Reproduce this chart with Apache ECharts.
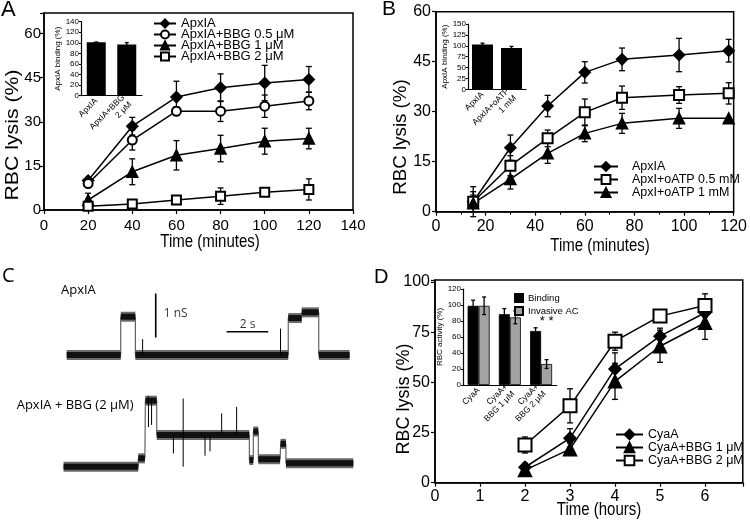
<!DOCTYPE html>
<html>
<head>
<meta charset="utf-8">
<title>RBC lysis panels</title>
<script src="https://cdn.jsdelivr.net/npm/echarts@6/dist/echarts.min.js"></script>
<style>
  html, body { margin: 0; padding: 0; background: #fff; }
  #chart { width: 750px; height: 520px; }
</style>
</head>
<body>
<div id="chart"></div>
<script>
// PANEL A DATA (minutes, % lysis)
const timeA = [20, 40, 60, 80, 100, 120];
const apxA = [10, 28.5, 38.4, 41.6, 43.2, 44.4];
const apxAErr = [1, 3, 5.4, 4.7, 6, 4.4];
const bbg05A = [9, 23.8, 33.6, 33.6, 35.3, 37.1];
const bbg05AErr = [1, 3.4, 1.5, 3.5, 3.8, 3];
const bbg1A = [3.4, 13, 18.6, 20.9, 23.4, 24.3];
const bbg1AErr = [2.3, 4.4, 5, 4.5, 4.4, 3.5];
const bbg2A = [1.3, 2, 3.4, 4.7, 6, 7];
const bbg2AErr = [0.5, 0.5, 0.8, 2.8, 1.2, 3.6];
const namesA = ['ApxIA', 'ApxIA+BBG 0.5 μM', 'ApxIA+BBG 1 μM', 'ApxIA+BBG 2 μM'];

// PANEL A INSET
const insetACats = ['ApxIA', 'ApxIA+BBG\n2 μM'];
const insetAVals = [101, 97];
const insetAErr = [0.5, 3.5];

// PANEL B DATA
const timeB = [15, 30, 45, 60, 75, 98, 118];
const apxB = [3, 19.2, 31.7, 41.8, 45.7, 47, 48.3];
const apxBErr = [4.5, 3.8, 3.2, 3.2, 3.4, 5, 3.4];
const atp05B = [3, 13.8, 22, 29.8, 34.2, 35, 35.5];
const atp05BErr = [3, 3, 2.5, 4, 3.5, 2.5, 3.2];
const atp1B = [2.5, 9.8, 17.5, 23.5, 26.5, 28, 28];
const atp1BErr = [2.5, 3, 3, 2.5, 3, 3, 0];
const namesB = ['ApxIA', 'ApxI+oATP 0.5 mM', 'ApxI+oATP 1 mM'];

// PANEL B INSET
const insetBCats = ['ApxIA', 'ApxIA+oATP\n1 mM'];
const insetBVals = [103, 95];
const insetBErr = [3, 3.5];

// PANEL C TRACES: [start s, end s, level nS]
const ctrlLevels = [[0, 2.6, 0], [2.6, 3.3, 0.87], [3.3, 10.65, 0], [10.65, 11.3, 0.84], [11.3, 12.12, 0.97], [12.12, 13.6, 0]];
const ctrlSpikes = [[3.65, 0, 0.36], [10.28, 0, 0.6]];
const bbgLevels = [[-0.15, 3.44, 0], [3.44, 3.76, 0.19], [3.78, 4.33, 1.5], [4.33, 8.78, 0.72], [8.78, 8.97, 0.15],
  [8.97, 9.21, 0.8], [9.21, 10.26, 0.17], [10.28, 10.54, 0.52], [10.54, 13.78, 0.08]];
const bbgSpikes = [[3.93, 0.9, 1.6], [4.08, 0.95, 1.55], [5.13, 0.3, 0.72], [5.6, 0, 1.55], [6.65, 0.25, 0.72],
  [6.89, 0.35, 0.72], [7.45, 0.72, 1.21], [8.17, 0.72, 1.36]];
const scaleBarNs = [[4.28, 0.4], [4.28, 1.4]];
const scaleBarSec = [[7.69, 0.53], [9.69, 0.53]];

// PANEL D DATA (hours)
const timeD = [2, 3, 4, 5, 6];
const cyaD = [7.7, 22.2, 56.7, 73, 84.7];
const cyaDErr = [2, 4.7, 8, 4, 4];
const bbg1D = [6.3, 16.7, 50.5, 68, 79.7];
const bbg1DErr = [1.5, 3, 9, 8, 8.3];
const bbg2D = [18.8, 38.3, 70.5, 83, 88.3];
const bbg2DErr = [4, 8.5, 4.5, 1.5, 5.8];
const namesD = ['CyaA', 'CyaA+BBG 1 μM', 'CyaA+BBG 2 μM'];

// PANEL D INSET
const insetDCats = ['CyaA', 'CyaA+\nBBG 1 μM', 'CyaA+\nBBG 2 μM'];
const bindingD = [99, 88.5, 67.5];
const bindingDErr = [7, 7, 4];
const invasiveD = [99, 84.5, 26.2];
const invasiveDErr = [11, 8, 5.5];

const FR = "'Liberation Sans', Arial, sans-serif";
const FO = "'Open Sans', sans-serif";

const chart = echarts.init(document.getElementById('chart'));

function valueAxis(gi, min, max, interval, fs, margin, extra) {
  return Object.assign({
    type: 'value', gridIndex: gi, min: min, max: max, interval: interval,
    axisLine: { show: true, onZero: false, lineStyle: { color: '#000', width: 1.5 } },
    axisTick: { show: true, inside: false, length: 4, lineStyle: { color: '#000', width: 1.2 } },
    axisLabel: {
      color: '#000', fontFamily: FR, fontSize: fs, margin: margin,
      formatter: v => (Math.abs(v / interval - Math.round(v / interval)) < 1e-6 ? String(v) : '')
    },
    splitLine: { show: false }
  }, extra || {});
}

function insetY(gi, max, interval, name, gap) {
  return {
    type: 'value', gridIndex: gi, min: 0, max: max, interval: interval,
    name: name, nameLocation: 'middle', nameGap: gap,
    nameTextStyle: { fontFamily: FR, fontSize: 8, color: '#000' },
    axisLine: { show: true, lineStyle: { color: '#000', width: 1.2 } },
    axisTick: { show: true, length: 2, lineStyle: { color: '#000' } },
    axisLabel: { color: '#000', fontFamily: FR, fontSize: 8, margin: 2 },
    splitLine: { show: false }
  };
}

function catAxis(gi, cats) {
  return {
    type: 'category', gridIndex: gi, data: cats,
    axisLine: { lineStyle: { color: '#000', width: 1.2 } },
    axisTick: { show: false },
    axisLabel: { color: '#000', fontFamily: FR, fontSize: 8.5, rotate: 45, interval: 0, margin: 4, lineHeight: 10 }
  };
}

function hiddenAxis(gi, min, max) {
  return { type: 'value', gridIndex: gi, min: min, max: max, show: false };
}

function lineSeries(name, gi, xs, ys, symbol, size) {
  return {
    name: name, type: 'line', xAxisIndex: gi, yAxisIndex: gi,
    data: xs.map((x, i) => [x, ys[i]]),
    symbol: symbol, symbolSize: size,
    lineStyle: { color: '#000', width: 1.5 },
    itemStyle: { color: '#000', borderColor: '#000', borderWidth: 1.5 },
    z: 4
  };
}

// vertical bars with optional caps: data rows are [x, low, high]
function segSeries(gi, rows, cap, dx, width) {
  return {
    type: 'custom', xAxisIndex: gi, yAxisIndex: gi, silent: true, z: 3,
    data: rows,
    renderItem: (params, api) => {
      const lo = api.coord([api.value(0), api.value(1)]);
      const hi = api.coord([api.value(0), api.value(2)]);
      const x = lo[0] + dx;
      const st = { stroke: '#000', lineWidth: width };
      const kids = [{ type: 'line', shape: { x1: x, y1: lo[1], x2: x, y2: hi[1] }, style: st }];
      if (cap > 0) {
        kids.push({ type: 'line', shape: { x1: x - cap, y1: lo[1], x2: x + cap, y2: lo[1] }, style: st });
        kids.push({ type: 'line', shape: { x1: x - cap, y1: hi[1], x2: x + cap, y2: hi[1] }, style: st });
      }
      return { type: 'group', children: kids };
    }
  };
}

function errSeries(gi, xs, ys, es, cap, dx) {
  return segSeries(gi, xs.map((x, i) => [x, ys[i] - es[i], ys[i] + es[i]]), cap, dx || 0, 1.3);
}

// noisy single-channel band: a grey fringe and dark core for each level
function bandSeries(gi, levels) {
  return {
    type: 'custom', xAxisIndex: gi, yAxisIndex: gi, silent: true, z: 2,
    data: levels,
    renderItem: (params, api) => {
      const a = api.coord([api.value(0), api.value(2)]);
      const b = api.coord([api.value(1), api.value(2)]);
      const w = b[0] - a[0];
      return { type: 'group', children: [
        { type: 'rect', shape: { x: a[0], y: a[1] - 5, width: w, height: 10 }, style: { fill: '#6a6a6a' } },
        { type: 'rect', shape: { x: a[0], y: a[1] - 3, width: w, height: 6 }, style: { fill: '#111' } }
      ] };
    }
  };
}

function pathSeries(gi, levels) {
  const pts = [];
  levels.forEach(l => { pts.push([l[0], l[2]]); pts.push([l[1], l[2]]); });
  return {
    type: 'line', xAxisIndex: gi, yAxisIndex: gi, data: pts, symbol: 'none', silent: true,
    lineStyle: { color: '#444', width: 1 }, z: 1
  };
}

function barLine(gi, pts) {
  return {
    type: 'line', xAxisIndex: gi, yAxisIndex: gi, data: pts, symbol: 'none', silent: true,
    lineStyle: { color: '#000', width: 1.6 }
  };
}

function title(text, x, y, extra) {
  return Object.assign({ type: 'text', x: x, y: y,
    style: { text: text, font: `15px ${FR}`, fill: '#000', textAlign: 'center', textVerticalAlign: 'middle' } }, extra || {});
}

function yTitle(x, y, sx) {
  return { type: 'text', x: x, y: y, rotation: Math.PI / 2, scaleX: sx,
    style: { text: 'RBC lysis (%)', font: `18px ${FR}`, fill: '#000', textAlign: 'center', textVerticalAlign: 'middle' } };
}

const idxA = insetACats.map((c, i) => i);
const idxB = insetBCats.map((c, i) => i);
const idxD = insetDCats.map((c, i) => i);

const legendText = (fs, lh) => ({ fontFamily: FR, fontSize: fs, color: '#000', lineHeight: lh });

const option = {
  animation: false,
  backgroundColor: '#fff',
  grid: [
    { left: 44, top: 13, width: 309, height: 197, show: true, borderColor: '#000', borderWidth: 1.5 },
    { left: 81, top: 21.7, width: 61, height: 74 },
    { left: 436, top: 11.7, width: 305, height: 200, show: true, borderColor: '#000', borderWidth: 1.5 },
    { left: 468, top: 24, width: 58, height: 65.3 },
    { left: 56.3, top: 289, width: 301.6, height: 88 },
    { left: 56.3, top: 378.7, width: 301.6, height: 110 },
    { left: 435, top: 280, width: 307.8, height: 202.7, show: true, borderColor: '#000', borderWidth: 1.5 },
    { left: 463, top: 289, width: 93.7, height: 96 }
  ],
  xAxis: [
    valueAxis(0, 0, 140, 20, 15, 8),
    catAxis(1, insetACats),
    valueAxis(2, 0, 120, 20, 16, 7, { minorTick: { show: true, splitNumber: 2, length: 3, lineStyle: { color: '#000' } } }),
    catAxis(3, insetBCats),
    hiddenAxis(4, -0.5, 14),
    hiddenAxis(5, -0.5, 14),
    valueAxis(6, 0, 6.84, 1, 16, 6),
    catAxis(7, insetDCats)
  ],
  yAxis: [
    valueAxis(0, 0, 67, 15, 15, 3),
    insetY(1, 140, 20, 'ApxIA binding (%)', 15),
    valueAxis(2, 0, 60, 15, 16, 5),
    insetY(3, 150, 25, 'ApxIA binding (%)', 15),
    hiddenAxis(4, -0.5, 1.5),
    hiddenAxis(5, -0.5, 2),
    valueAxis(6, 0, 101, 25, 16, 5),
    insetY(7, 120, 20, 'RBC activity (%)', 14)
  ],
  legend: [
    { orient: 'vertical', left: 148, top: 12, itemWidth: 22, itemHeight: 10, itemGap: -2, selectedMode: false,
      data: namesA, textStyle: legendText(13, 11) },
    { orient: 'vertical', left: 588, top: 155, itemWidth: 24, itemHeight: 11, itemGap: 0, selectedMode: false,
      data: namesB, textStyle: Object.assign(legendText(12.5, 12), { padding: [0, 0, 0, 9] }) },
    { orient: 'vertical', left: 610, top: 423, itemWidth: 27, itemHeight: 12, itemGap: 0, selectedMode: false,
      data: namesD, textStyle: legendText(12.5, 12) },
    { orient: 'vertical', left: 509, top: 288, itemWidth: 8, itemHeight: 8, itemGap: 3, icon: 'rect', selectedMode: false,
      data: ['Binding', 'Invasive AC'], textStyle: legendText(9.5, 9) }
  ],
  graphic: { elements: [
    { type: 'text', x: 1, y: -1, style: { text: 'A', font: `22px ${FR}`, fill: '#000' } },
    { type: 'text', x: 382, y: -1, style: { text: 'B', font: `21px ${FR}`, fill: '#000' } },
    { type: 'text', x: 2, y: 266, style: { text: 'C', font: `20px ${FO}`, fill: '#000' } },
    { type: 'text', x: 374, y: 267.5, style: { text: 'D', font: `20px ${FR}`, fill: '#000' } },
    title('Time (minutes)', 210, 241.7, { scaleY: 1.25 }),
    title('Time (minutes)', 600, 245.5, { scaleY: 1.25 }),
    title('Time (hours)', 599, 510, { scaleY: 1.25 }),
    yTitle(13.5, 135, 1.18),
    yTitle(401, 137, 1.04),
    yTitle(404, 399, 1.0),
    { type: 'text', x: 61, y: 290.7, style: { text: 'ApxIA', font: `13px ${FO}`, fill: '#000', textVerticalAlign: 'middle' } },
    { type: 'text', x: 16.7, y: 405.7, style: { text: 'ApxIA + BBG (2 μM)', font: `13px ${FO}`, fill: '#000', textVerticalAlign: 'middle' } }
  ] },
  series: [
    // A
    errSeries(0, timeA, apxA, apxAErr, 3),
    errSeries(0, timeA, bbg05A, bbg05AErr, 3),
    errSeries(0, timeA, bbg1A, bbg1AErr, 3),
    errSeries(0, timeA, bbg2A, bbg2AErr, 3),
    lineSeries(namesA[0], 0, timeA, apxA, 'diamond', 11),
    lineSeries(namesA[1], 0, timeA, bbg05A, 'emptyCircle', 9),
    lineSeries(namesA[2], 0, timeA, bbg1A, 'triangle', 11),
    lineSeries(namesA[3], 0, timeA, bbg2A, 'emptyRect', 9),
    { type: 'bar', xAxisIndex: 1, yAxisIndex: 1, data: insetAVals, barWidth: 19, itemStyle: { color: '#000' } },
    errSeries(1, idxA, insetAVals, insetAErr, 2),
    // B
    errSeries(2, timeB, apxB, apxBErr, 3),
    errSeries(2, timeB, atp05B, atp05BErr, 3),
    errSeries(2, timeB, atp1B, atp1BErr, 3),
    lineSeries(namesB[0], 2, timeB, apxB, 'diamond', 11),
    lineSeries(namesB[1], 2, timeB, atp05B, 'emptyRect', 10),
    lineSeries(namesB[2], 2, timeB, atp1B, 'triangle', 11),
    { type: 'bar', xAxisIndex: 3, yAxisIndex: 3, data: insetBVals, barWidth: 21, itemStyle: { color: '#000' } },
    errSeries(3, idxB, insetBVals, insetBErr, 2),
    // C
    pathSeries(4, ctrlLevels),
    bandSeries(4, ctrlLevels),
    segSeries(4, ctrlSpikes, 0, 0, 1),
    barLine(4, scaleBarNs),
    barLine(4, scaleBarSec),
    { type: 'scatter', xAxisIndex: 4, yAxisIndex: 4, symbolSize: 1, itemStyle: { color: 'rgba(0,0,0,0)' }, silent: true,
      data: [{ value: [4.64, 0.95], name: '1 nS', label: { position: 'right', distance: 0 } },
             { value: [8.7, 0.7], name: '2 s', label: { position: 'inside' } }],
      label: { show: true, formatter: '{b}', color: '#000', fontFamily: FO, fontSize: 12 } },
    pathSeries(5, bbgLevels),
    bandSeries(5, bbgLevels),
    segSeries(5, bbgSpikes, 0, 0, 1),
    // D
    errSeries(6, timeD, cyaD, cyaDErr, 3),
    errSeries(6, timeD, bbg1D, bbg1DErr, 3),
    errSeries(6, timeD, bbg2D, bbg2DErr, 3),
    lineSeries(namesD[0], 6, timeD, cyaD, 'diamond', 12),
    lineSeries(namesD[1], 6, timeD, bbg1D, 'triangle', 13),
    lineSeries(namesD[2], 6, timeD, bbg2D, 'emptyRect', 13),
    { name: 'Binding', type: 'bar', xAxisIndex: 7, yAxisIndex: 7, data: bindingD, barWidth: 11, barGap: '0%',
      itemStyle: { color: '#000', borderColor: '#000', borderWidth: 0.8 } },
    { name: 'Invasive AC', type: 'bar', xAxisIndex: 7, yAxisIndex: 7, data: invasiveD, barWidth: 11, barGap: '0%',
      itemStyle: { color: '#a3a3a3', borderColor: '#000', borderWidth: 0.8 },
      markPoint: { symbol: 'circle', symbolSize: 2, itemStyle: { color: 'rgba(0,0,0,0)' },
        data: [{ coord: [2, 80], label: { show: true, formatter: '* *', color: '#000', fontFamily: FR, fontSize: 13, position: 'inside' } }] } },
    errSeries(7, idxD, bindingD, bindingDErr, 2, -5.5),
    errSeries(7, idxD, invasiveD, invasiveDErr, 2, 5.5)
  ]
};

chart.setOption(option);
</script>
</body>
</html>
